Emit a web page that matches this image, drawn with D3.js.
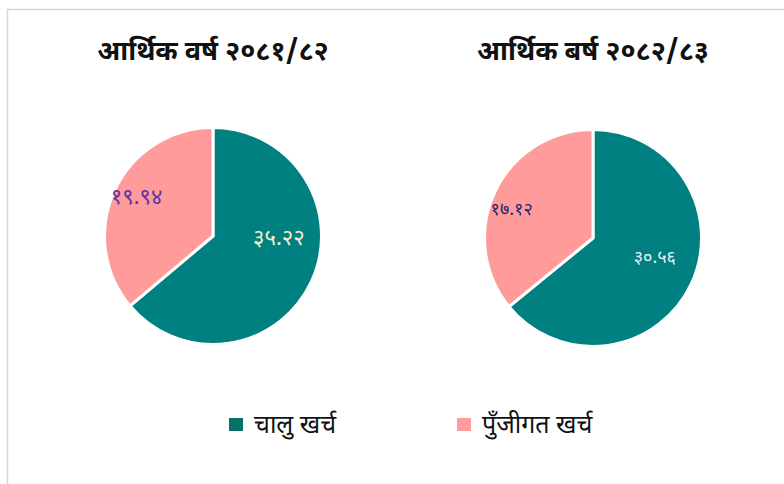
<!DOCTYPE html>
<html>
<head>
<meta charset="utf-8">
<script src="https://cdn.jsdelivr.net/npm/d3@7"></script>
<style>
  html, body { margin: 0; padding: 0; background: #fff; }
  svg { display: block; font-family: "Noto Sans Devanagari", "Noto Sans", "Lohit Devanagari", sans-serif; }
</style>
</head>
<body>
<svg id="chart" width="784" height="484"></svg>
<script>
// Budget split by fiscal year (रु. अर्बमा)
const categories = ["चालु खर्च", "पुँजीगत खर्च"];
const years = ["आर्थिक वर्ष २०८१/८२", "आर्थिक बर्ष २०८२/८३"];
const recurrent = [35.22, 30.56];
const capital = [19.94, 17.12];
const valueLabels = [["३५.२२", "१९.९४"], ["३०.५६", "१७.१२"]];

const colors = ["#008080", "#ff9b9b"];
const legendColors = ["#07706b", "#ff9b9b"];
const labelColors = [["#f6ecc8", "#5a33a6"], ["#e6f0ee", "#1f2a70"]];

const svg = d3.select("#chart");

// panel frame
svg.append("path")
  .attr("d", "M7.5,484 V9.5 H784")
  .attr("fill", "none")
  .attr("stroke", "#d6d6d6")
  .attr("stroke-width", 1.5);

const centers = [[213, 236], [593, 238]];
const radius = 108.5;
// label anchor: angle (deg, clockwise from top) and distance from centre
const labelSpots = [[[93, 66], [296, 85]], [[108, 65], [289, 86]]];
const labelSizes = [22, 18];

const pie = d3.pie().sort(null).value(d => d);
const arc = d3.arc().innerRadius(0).outerRadius(radius);

years.forEach((title, i) => {
  const g = svg.append("g").attr("transform", `translate(${centers[i][0]},${centers[i][1]})`);
  const arcs = pie([recurrent[i], capital[i]]);

  g.selectAll("path.slice")
    .data(arcs)
    .join("path")
    .attr("class", "slice")
    .attr("d", arc)
    .attr("fill", (d, j) => colors[j])
    .attr("stroke", "#fff")
    .attr("stroke-width", 3)
    .attr("stroke-linejoin", "round");

  g.selectAll("text.val")
    .data(arcs)
    .join("text")
    .attr("class", "val")
    .attr("x", (d, j) => Math.sin(labelSpots[i][j][0] * Math.PI / 180) * labelSpots[i][j][1])
    .attr("y", (d, j) => -Math.cos(labelSpots[i][j][0] * Math.PI / 180) * labelSpots[i][j][1])
    .attr("text-anchor", "middle")
    .attr("dominant-baseline", "central")
    .attr("font-size", labelSizes[i])
    .attr("fill", (d, j) => labelColors[i][j])
    .text((d, j) => valueLabels[i][j]);

  svg.append("text")
    .attr("x", centers[i][0])
    .attr("y", 60)
    .attr("text-anchor", "middle")
    .attr("font-size", 27)
    .attr("font-weight", "bold")
    .attr("fill", "#111")
    .text(title);
});

// legend
const legendX = [229, 457];
const lg = svg.append("g");
categories.forEach((c, j) => {
  lg.append("rect")
    .attr("x", legendX[j]).attr("y", 418)
    .attr("width", 14).attr("height", 13)
    .attr("fill", legendColors[j]);
  lg.append("text")
    .attr("x", legendX[j] + 25).attr("y", 433)
    .attr("font-size", 25)
    .attr("fill", "#111")
    .text(c);
});
</script>
</body>
</html>
